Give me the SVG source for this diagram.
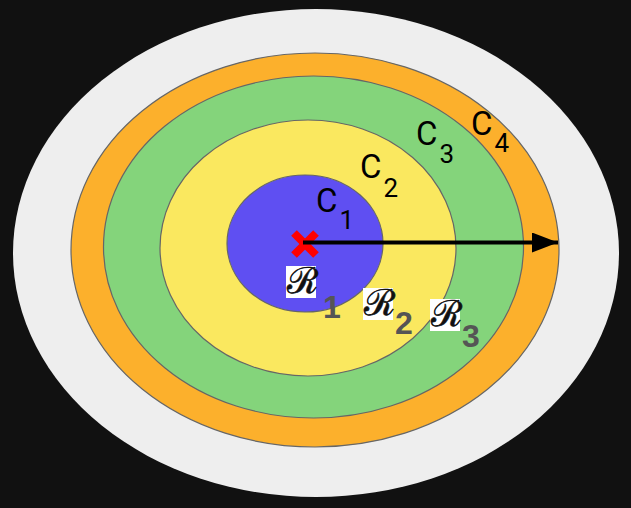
<svg xmlns="http://www.w3.org/2000/svg" width="631" height="508" viewBox="0 0 631 508">
<defs>
<style>
.ring{stroke:#666;stroke-width:1.2}
.c{font-family:Roboto,"Liberation Sans",sans-serif;fill:#000}
.cl{font-size:33px}
.cs{font-size:26px}
.rbox{fill:#fff}
.r{font-family:"DejaVu Serif","Liberation Serif",serif;font-size:36px;fill:#111;stroke:#111;stroke-width:0.6}
.rs{font-family:"Liberation Sans",Arial,sans-serif;font-weight:bold;font-size:32px;fill:#555}
</style>
<marker id="ah" markerWidth="6.5" markerHeight="5" refX="6.5" refY="2.5" orient="auto" markerUnits="strokeWidth">
<path d="M0,0 L6.5,2.5 L0,5 Z" fill="#000"/>
</marker>
</defs>
<rect width="631" height="508" fill="#111"/>
<g id="outer"><ellipse cx="316" cy="253" rx="303" ry="244" fill="#eeeeee"/></g>
<g id="c4"><ellipse class="ring" cx="315" cy="250" rx="244" ry="197" fill="#fcb02c"/></g>
<g id="c3"><ellipse class="ring" cx="313.5" cy="247" rx="210" ry="171" fill="#84d47b"/></g>
<g id="c2"><ellipse class="ring" cx="308" cy="248" rx="148" ry="128" fill="#fae85f"/></g>
<g id="c1"><ellipse class="ring" cx="305" cy="243.5" rx="78" ry="68.5" fill="#5f4ff2"/></g>
<g id="center">
<line x1="294" y1="233" x2="316" y2="255" stroke="#f00" stroke-width="8"/>
<line x1="316" y1="233" x2="294" y2="255" stroke="#f00" stroke-width="8"/>
</g>
<g id="connectors">
<line x1="303" y1="242.5" x2="558" y2="242.5" stroke="#000" stroke-width="4" marker-end="url(#ah)"/>
</g>
<g id="labels-c">
<text class="c" x="316" y="212"><tspan class="cl">C</tspan><tspan class="cs" dx="2" dy="17">1</tspan></text>
<text class="c" x="360" y="178"><tspan class="cl">C</tspan><tspan class="cs" dx="2" dy="19">2</tspan></text>
<text class="c" x="416" y="145"><tspan class="cl">C</tspan><tspan class="cs" dx="2" dy="18">3</tspan></text>
<text class="c" x="471" y="135"><tspan class="cl">C</tspan><tspan class="cs" dx="2" dy="17">4</tspan></text>
</g>
<g id="r1">
<rect class="rbox" x="286" y="266" width="30" height="32"/>
<text class="r" x="287" y="293">ℛ</text>
<text class="rs" x="323" y="318">1</text>
</g>
<g id="r2">
<rect class="rbox" x="363" y="288" width="30" height="32"/>
<text class="r" x="364" y="315">ℛ</text>
<text class="rs" x="395" y="334">2</text>
</g>
<g id="r3">
<rect class="rbox" x="430" y="299" width="30" height="32"/>
<text class="r" x="431" y="326">ℛ</text>
<text class="rs" x="462" y="347">3</text>
</g>
</svg>
